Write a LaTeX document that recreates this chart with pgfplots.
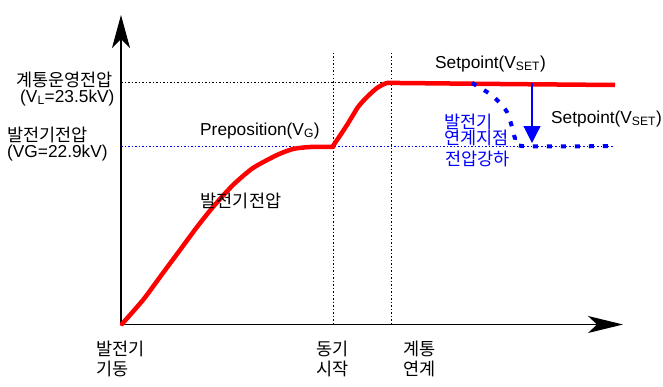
\documentclass[border=0pt]{standalone}
\usepackage{fontspec}
\setmainfont{Liberation Sans}
\newfontfamily\kr{Noto Sans CJK KR}
\usepackage{pgfplots}
\pgfplotsset{compat=1.18}
\usetikzlibrary{arrows.meta}
\newcommand\K{\fontsize{17.5bp}{19bp}\kr}
\newcommand\Lt{\fontsize{17.3bp}{19bp}\selectfont}
\begin{document}
\begin{tikzpicture}
\begin{axis}[scale only axis, width=663bp, height=387bp,
  xmin=0, xmax=663, ymin=0, ymax=387, y dir=reverse,
  hide axis, clip=false]
% frame of the picture
\addplot[draw=none] coordinates {(0,0) (663,387)};
% axes
\addplot[black, line width=1.3bp, -{Stealth[length=33bp,width=18bp,inset=9bp]}] coordinates {(121,325) (121,15)};
\addplot[black, line width=1.3bp, -{Stealth[length=35bp,width=17bp,inset=9bp]}] coordinates {(121,324.5) (623,324.5)};
% reference lines
\addplot[black, line width=0.9bp, dash pattern=on 1.5bp off 2bp] coordinates {(121,82) (388,82)};
\addplot[blue, line width=0.9bp, dash pattern=on 1.5bp off 2bp] coordinates {(121,146) (613,146)};
\addplot[black, line width=0.9bp, dash pattern=on 1.5bp off 2bp] coordinates {(333,53) (333,324)};
\addplot[black, line width=0.9bp, dash pattern=on 1.5bp off 2bp] coordinates {(391,53) (391,324)};
% generator voltage curve
\addplot[red, line width=4.5bp, smooth, tension=0.4, line cap=round, line join=round] coordinates {
 (122,324) (143,300) (160,277) (180,250) (197,227) (213,207) (233,185) (253,168) (277,155) (293,149) (310,147) (333,147)};
\addplot[red, line width=4.5bp, smooth, tension=0.4, line join=round] coordinates {
 (333,146) (347,125) (358,107) (367,97) (377,88) (387,83) (400,83) (500,84) (615,85)};
% voltage drop at connection point
\addplot[blue, line width=4bp, dash pattern=on 5bp off 9bp, smooth, tension=0.5] coordinates {
 (472,83) (487,92) (497,100) (507,112) (512,127) (515,138) (522,146) (610,146)};
\addplot[blue, line width=1.2bp, -{Triangle[length=17bp,width=17bp]}] coordinates {(532,83) (532,143)};
% texts
\node[anchor=west, inner sep=0pt] at (axis cs:16,80) {\K 계통운영전압};
\node[anchor=base west, inner sep=0pt] at (axis cs:20,102) {\Lt (V\textsubscript{L}=23.5kV)};
\node[anchor=west, inner sep=0pt] at (axis cs:7,135) {\K 발전기전압};
\node[anchor=base west, inner sep=0pt] at (axis cs:7,157) {\Lt (VG=22.9kV)};
\node[anchor=base west, inner sep=0pt] at (axis cs:200,135) {\Lt Preposition(V\textsubscript{G})};
\node[anchor=center, inner sep=0pt] at (axis cs:241,201) {\K 발전기전압};
\node[anchor=base west, inner sep=0pt] at (axis cs:435,68) {\Lt Setpoint(V\textsubscript{SET})};
\node[anchor=base west, inner sep=0pt] at (axis cs:551,123) {\Lt Setpoint(V\textsubscript{SET})};
\node[anchor=west, inner sep=0pt, text=blue] at (axis cs:444,122) {\K 발전기};
\node[anchor=west, inner sep=0pt, text=blue] at (axis cs:444,138) {\K 연계지점};
\node[anchor=west, inner sep=0pt, text=blue] at (axis cs:445,159) {\K 전압강하};
\node[anchor=west, inner sep=0pt] at (axis cs:96,349) {\K 발전기};
\node[anchor=west, inner sep=0pt] at (axis cs:96,369) {\K 기동};
\node[anchor=west, inner sep=0pt] at (axis cs:316,349) {\K 동기};
\node[anchor=west, inner sep=0pt] at (axis cs:316,369) {\K 시작};
\node[anchor=west, inner sep=0pt] at (axis cs:403,349) {\K 계통};
\node[anchor=west, inner sep=0pt] at (axis cs:403,369) {\K 연계};
\end{axis}
\end{tikzpicture}
\end{document}
